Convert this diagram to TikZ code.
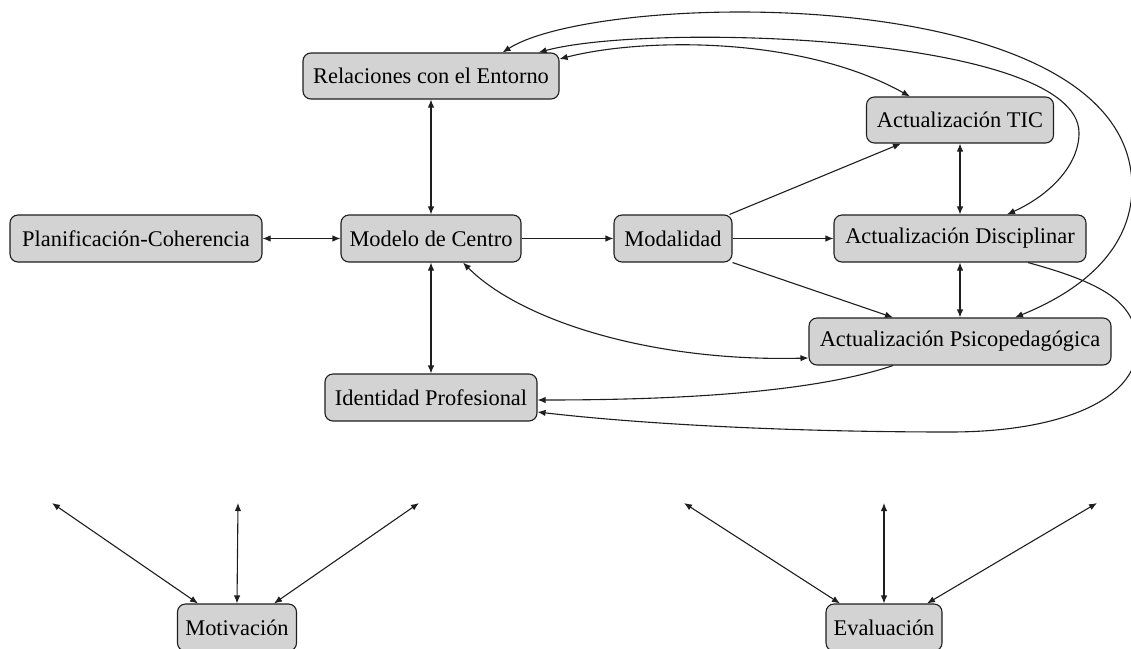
\documentclass[tikz,border=0pt]{standalone}
\usepackage{fontspec}
\setmainfont{Liberation Serif}
\usetikzlibrary{arrows.meta,calc}
\definecolor{boxgray}{RGB}{211,211,211}
\definecolor{edgeink}{RGB}{30,30,30}
\begin{document}
\begin{tikzpicture}[x=1pt,y=-1pt,
  box/.style={draw=edgeink, line width=1.1pt, fill=boxgray, rounded corners=8pt,
    minimum height=47pt, inner sep=0pt, font=\fontsize{22.4}{26}\selectfont},
  tip/.tip={Latex[length=8pt,width=6.5pt]},
  link/.style={line width=1.1pt, draw=edgeink, -tip},
  both/.style={line width=1.1pt, draw=edgeink, tip-tip},
]
\useasboundingbox (0,0) rectangle (1131,648);
\clip (0,0) rectangle (1131,648);

% nodes
\node[box, minimum width=256pt, minimum height=46pt] (rel) at (431,76) {Relaciones con el Entorno};
\node[box, minimum width=187pt, minimum height=46pt] (tic) at (960,120) {Actualización TIC};
\node[box, minimum width=252pt] (plan) at (136,238.5) {Planificación-Coherencia};
\node[box, minimum width=180pt] (mod) at (431,238.5) {Modelo de Centro};
\node[box, minimum width=118pt] (moda) at (673,238.5) {Modalidad};
\node[box, minimum width=252pt] (dis) at (960,238.5) {Actualización Disciplinar};
\node[box, minimum width=302pt] (psi) at (960,341.5) {Actualización Psicopedagógica};
\node[box, minimum width=212pt] (ide) at (431,397.5) {Identidad Profesional};
\node[box, minimum width=119pt] (mot) at (237,627.5) {Motivación};
\node[box, minimum width=116pt] (eva) at (884,627.5) {Evaluación};

% free ends of the lower fans
\coordinate (m1) at (52,503);
\coordinate (m2) at (238,503);
\coordinate (m3) at (419,503);
\coordinate (e1) at (684,503);
\coordinate (e2) at (884,503);
\coordinate (e3) at (1097,503);

% straight connectors
\draw[both] (rel.south) -- (mod.north);
\draw[both] (plan.east) -- (mod.west);
\draw[link] (mod.east) -- (moda.west);
\draw[both] (mod.south) -- (ide.north);
\draw[link] ($(moda.north east)+(-3,0)$) -- ($(tic.south west)+(35,0)$);
\draw[link] (moda.east) -- (dis.west);
\draw[link] (moda.south east) -- ($(psi.north)+(-67,0)$);
\draw[both] (tic.south) -- (dis.north);
\draw[both] (dis.south) -- (psi.north);

% curved connectors
\draw[both] ($(rel.east)+(0,-17)$) .. controls (640,38) and (800,35) .. ($(tic.north west)+(44,0)$);
\draw[both] ($(rel.north east)+(-21,0)$) .. controls (650,22) and (1079,35) .. (1079,133)
  .. controls (1079,165) and (1050,195) .. ($(dis.north)+(47,0)$);
\draw[both] ($(rel.north east)+(-57,0)$) .. controls (600,-10) and (1132,-20) .. (1132,187)
  .. controls (1132,240) and (1095,285) .. ($(psi.north)+(55,0)$);
\draw[link] ($(dis.south)+(68,0)$) .. controls (1110,285) and (1137,305) .. (1137,347)
  .. controls (1137,400) and (1060,432) .. (950,432)
  .. controls (800,432) and (650,425) .. ($(ide.east)+(0,14.5)$);
\draw[link] ($(psi.south)+(-67,0)$) .. controls (820,390) and (700,400) .. ($(ide.east)+(0,2.5)$);
\draw[both] ($(mod.south)+(32,0)$) .. controls (520,320) and (650,362) .. ($(psi.west)+(0,16.5)$);

% lower fans
\draw[both] ($(mot.north)+(-39,0)$) -- (m1);
\draw[both] (mot.north) -- (m2);
\draw[both] ($(mot.north)+(37,0)$) -- (m3);
\draw[both] ($(eva.north)+(-44,0)$) -- (e1);
\draw[both] (eva.north) -- (e2);
\draw[both] ($(eva.north)+(43,0)$) -- (e3);
\end{tikzpicture}
\end{document}
